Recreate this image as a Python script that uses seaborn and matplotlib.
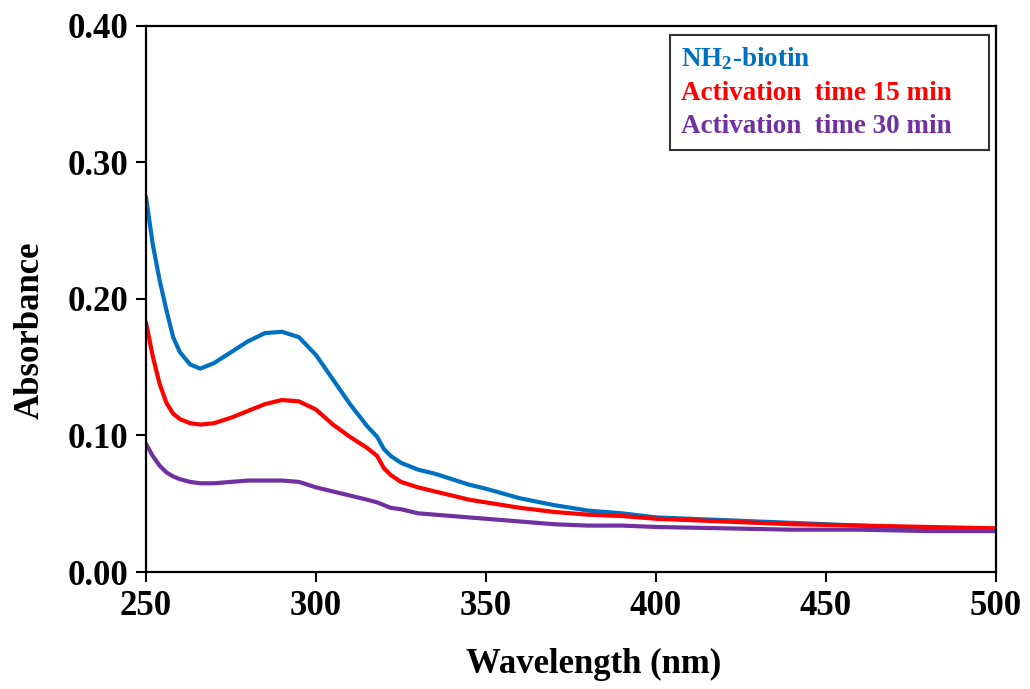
import pandas as pd
import seaborn as sns
import matplotlib.pyplot as plt
from matplotlib.ticker import FormatStrFormatter, MultipleLocator

# --- Data ---
wavelength = [250, 252, 254, 256, 258, 260, 263, 266, 270, 275, 280, 285, 290,
              295, 300, 305, 310, 315, 318, 320, 322, 325, 330, 335, 340, 345,
              350, 360, 370, 380, 390, 400, 420, 440, 460, 480, 500]

nh2_biotin = [0.275, 0.240, 0.214, 0.192, 0.172, 0.161, 0.152, 0.149, 0.153,
              0.161, 0.169, 0.175, 0.176, 0.172, 0.159, 0.141, 0.123, 0.107,
              0.099, 0.090, 0.085, 0.080, 0.075, 0.072, 0.068, 0.064, 0.061,
              0.054, 0.049, 0.045, 0.043, 0.040, 0.038, 0.036, 0.034, 0.032,
              0.031]

act_15 = [0.183, 0.158, 0.138, 0.124, 0.116, 0.112, 0.109, 0.108, 0.109,
          0.113, 0.118, 0.123, 0.126, 0.125, 0.119, 0.108, 0.099, 0.091,
          0.085, 0.076, 0.071, 0.066, 0.062, 0.059, 0.056, 0.053, 0.051,
          0.047, 0.044, 0.042, 0.041, 0.039, 0.037, 0.035, 0.034, 0.033,
          0.032]

act_30 = [0.094, 0.085, 0.078, 0.073, 0.070, 0.068, 0.066, 0.065, 0.065,
          0.066, 0.067, 0.067, 0.067, 0.066, 0.062, 0.059, 0.056, 0.053,
          0.051, 0.049, 0.047, 0.046, 0.043, 0.042, 0.041, 0.040, 0.039,
          0.037, 0.035, 0.034, 0.034, 0.033, 0.032, 0.031, 0.031, 0.030,
          0.030]

labels = ["NH$_2$-biotin", "Activation  time 15 min    ", "Activation  time 30 min    "]
colors = ["#0070C0", "#FF0000", "#7030A0"]

df = pd.DataFrame({"wl": wavelength, "a": nh2_biotin, "b": act_15, "c": act_30})

# --- Style ---
sns.set_theme(style="white")
plt.rcParams["font.family"] = ["Liberation Serif", "DejaVu Serif"]
plt.rcParams["font.weight"] = "bold"
plt.rcParams["text.color"] = "black"
plt.rcParams["axes.labelcolor"] = "black"
plt.rcParams["mathtext.fontset"] = "custom"
plt.rcParams["mathtext.rm"] = "Liberation Serif:bold"
plt.rcParams["mathtext.it"] = "Liberation Serif:bold"
plt.rcParams["mathtext.bf"] = "Liberation Serif:bold"

fig = plt.figure(figsize=(10.3, 6.89), dpi=100)
ax = fig.add_axes([0.1417, 0.1698, 0.8253, 0.7925])

for col, lab, c in zip(["a", "b", "c"], labels, colors):
    sns.lineplot(data=df, x="wl", y=col, color=c, linewidth=3.0, label=lab, ax=ax)

ax.set_xlim(250, 500)
ax.set_ylim(0, 0.40)
ax.xaxis.set_major_locator(MultipleLocator(50))
ax.yaxis.set_major_locator(MultipleLocator(0.10))
ax.yaxis.set_major_formatter(FormatStrFormatter("%.2f"))

for s in ax.spines.values():
    s.set_color("black")
    s.set_linewidth(1.6)

ax.tick_params(axis="both", which="major", direction="out", length=7, width=1.5,
               colors="black", labelcolor="black", labelsize=25,
               bottom=True, left=True, pad=6)
for t in ax.get_xticklabels() + ax.get_yticklabels():
    t.set_fontweight("bold")

ax.set_xlabel("Wavelength (nm)", fontsize=25, fontweight="bold", color="black")
ax.set_ylabel("Absorbance", fontsize=25, fontweight="bold", color="black")
ax.xaxis.set_label_coords(0.527, -0.14)
ax.yaxis.set_label_coords(-0.117, 0.443)

leg = ax.legend(loc="upper right", bbox_to_anchor=(0.992, 0.984), handlelength=0,
                handletextpad=0, fancybox=False, frameon=True, edgecolor="black",
                prop={"family": "Liberation Serif", "weight": "bold", "size": 19.5},
                labelspacing=0.3, borderpad=0.4, borderaxespad=0)
leg.get_frame().set_linewidth(1.5)
for txt, c in zip(leg.get_texts(), colors):
    txt.set_color(c)
for h in leg.legend_handles:
    h.set_visible(False)

plt.savefig("out.png", dpi=100)
